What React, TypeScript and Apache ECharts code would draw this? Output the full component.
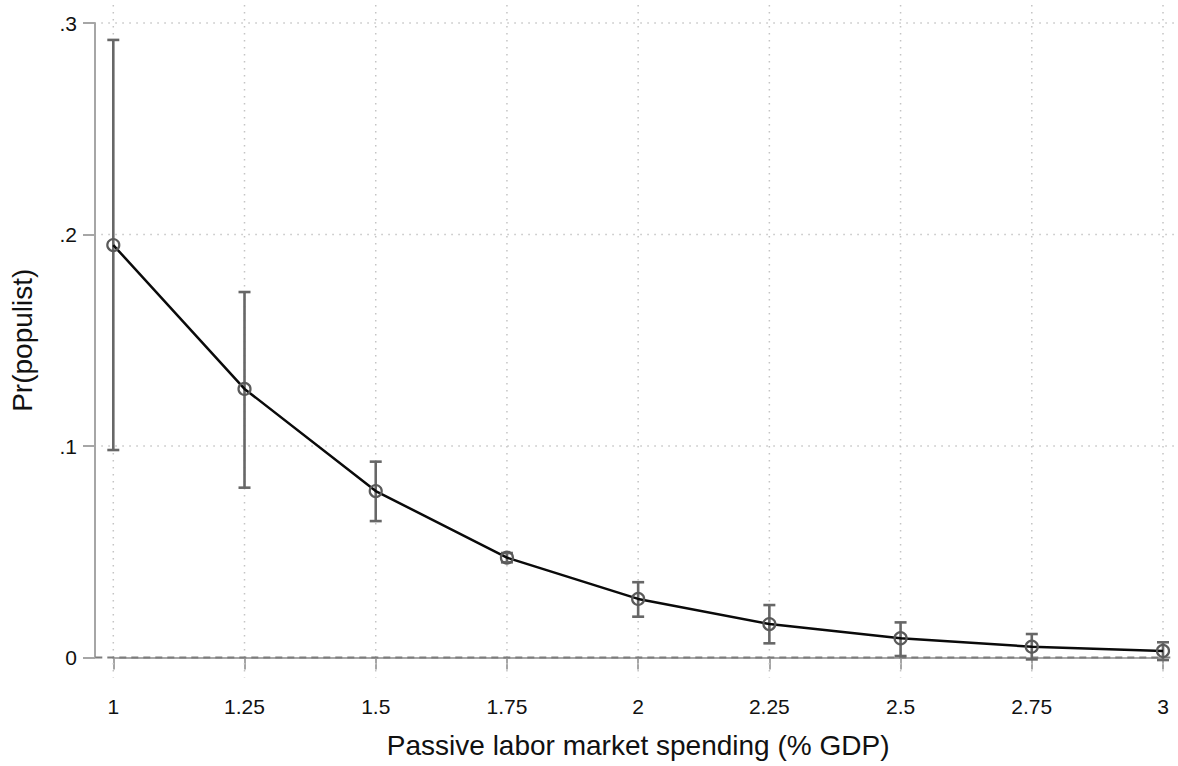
import React, { useEffect, useRef } from "react";
import * as echarts from "echarts";

const xValues = [1, 1.25, 1.5, 1.75, 2, 2.25, 2.5, 2.75, 3];
const meanValues = [0.195, 0.127, 0.0787, 0.0472, 0.0277, 0.0158, 0.0091, 0.0051, 0.0031];
const lowerValues = [0.0981, 0.0803, 0.0645, 0.045, 0.0193, 0.0067, 0.0007, -0.0009, -0.0012];
const upperValues = [0.292, 0.1728, 0.0926, 0.0494, 0.0356, 0.0248, 0.0166, 0.0111, 0.0072];
const xTicks = [1, 1.25, 1.5, 1.75, 2, 2.25, 2.5, 2.75, 3];
const yTicks = [0.1, 0.2, 0.3];

const xAxisTitle = "Passive labor market spending (% GDP)";
const yAxisTitle = "Pr(populist)";

const FONT = "'Liberation Sans', Arial, Helvetica, sans-serif";

export default function App() {
  const ref = useRef<HTMLDivElement>(null);

  useEffect(() => {
    if (!ref.current) return;
    const chart = echarts.init(ref.current, null, { renderer: "svg" });

    const gridData: any[] = [
      ...xTicks.map((v) => [0, v]),
      ...yTicks.map((v) => [1, v]),
    ];

    const option: any = {
      animation: false,
      backgroundColor: "#ffffff",
      grid: { left: 113.3, right: 15, top: 23, bottom: 108.5, containLabel: false },
      xAxis: {
        type: "value",
        min: 1,
        max: 3,
        interval: 0.25,
        position: "bottom",
        offset: 20.5,
        axisLine: { show: true, lineStyle: { color: "#a6a6a6", width: 2 } },
        axisTick: { show: true, length: 12, lineStyle: { color: "#a6a6a6", width: 2 } },
        axisLabel: { fontSize: 21, color: "#111", fontFamily: FONT, margin: 18 },
        splitLine: { show: false },
        name: xAxisTitle,
        nameLocation: "middle",
        nameGap: 53,
        nameTextStyle: { fontSize: 28, color: "#111", fontFamily: FONT },
      },
      yAxis: {
        type: "value",
        min: 0,
        max: 0.3,
        interval: 0.1,
        offset: 18.3,
        axisLine: { show: true, lineStyle: { color: "#a6a6a6", width: 2 } },
        axisTick: { show: true, length: 12, lineStyle: { color: "#a6a6a6", width: 2 } },
        axisLabel: {
          fontSize: 21,
          color: "#111",
          fontFamily: FONT,
          margin: 18,
          formatter: (v: number) => (Math.abs(v) < 1e-9 ? "0" : v.toFixed(1).replace(/^0/, "")),
        },
        splitLine: { show: false },
        name: yAxisTitle,
        nameLocation: "middle",
        nameRotate: 90,
        nameGap: 59,
        nameTextStyle: { fontSize: 28, color: "#111", fontFamily: FONT },
      },
      series: [
        {
          type: "custom",
          name: "grid",
          silent: true,
          z: 1,
          clip: false,
          data: gridData,
          renderItem: (params: any, api: any) => {
            const kind = api.value(0);
            const v = api.value(1);
            if (kind === 0) {
              const top = api.coord([v, 0.3]);
              const bot = api.coord([v, 0]);
              return {
                type: "line",
                shape: { x1: top[0], y1: top[1] - 18, x2: bot[0], y2: bot[1] + 20 },
                style: { stroke: "#c4c4c4", lineWidth: 1.5, lineDash: [1.5, 5.5] },
              };
            }
            const l = api.coord([1, v]);
            const r = api.coord([3, v]);
            return {
              type: "line",
              shape: { x1: l[0] - 12, y1: l[1], x2: r[0] + 12, y2: r[1] },
              style: { stroke: "#c4c4c4", lineWidth: 1.5, lineDash: [1.5, 5.5] },
            };
          },
        },
        {
          type: "custom",
          name: "zero",
          silent: true,
          z: 2,
          clip: false,
          data: [[0]],
          renderItem: (params: any, api: any) => {
            const l = api.coord([1, 0]);
            const r = api.coord([3, 0]);
            return {
              type: "line",
              shape: { x1: l[0] - 18, y1: l[1], x2: r[0] + 12, y2: r[1] },
              style: { stroke: "#7c7c7c", lineWidth: 2.2, lineDash: [7, 5] },
            };
          },
        },
        {
          type: "custom",
          name: "ci",
          z: 3,
          clip: false,
          data: xValues.map((x, i) => [x, lowerValues[i], upperValues[i]]),
          renderItem: (params: any, api: any) => {
            const x = api.value(0);
            const lo = api.coord([x, api.value(1)]);
            const hi = api.coord([x, api.value(2)]);
            const hw = 6;
            const style = { stroke: "#676767", lineWidth: 2.6, fill: "none" };
            return {
              type: "group",
              children: [
                { type: "line", shape: { x1: lo[0], y1: lo[1], x2: hi[0], y2: hi[1] }, style },
                { type: "line", shape: { x1: hi[0] - hw, y1: hi[1], x2: hi[0] + hw, y2: hi[1] }, style },
                { type: "line", shape: { x1: lo[0] - hw, y1: lo[1], x2: lo[0] + hw, y2: lo[1] }, style },
              ],
            };
          },
        },
        {
          type: "line",
          name: "mean",
          z: 4,
          data: xValues.map((x, i) => [x, meanValues[i]]),
          lineStyle: { color: "#0a0a0a", width: 2.5 },
          symbol: "circle",
          symbolSize: 12,
          itemStyle: { color: "rgba(0,0,0,0)", borderColor: "#5a5a5a", borderWidth: 2.2 },
          showSymbol: true,
        },
      ],
    };

    chart.setOption(option);
    return () => chart.dispose();
  }, []);

  return (
    <div
      ref={ref}
      style={{ position: "fixed", left: 0, top: 0, width: 1178, height: 766, background: "#fff" }}
    />
  );
}
